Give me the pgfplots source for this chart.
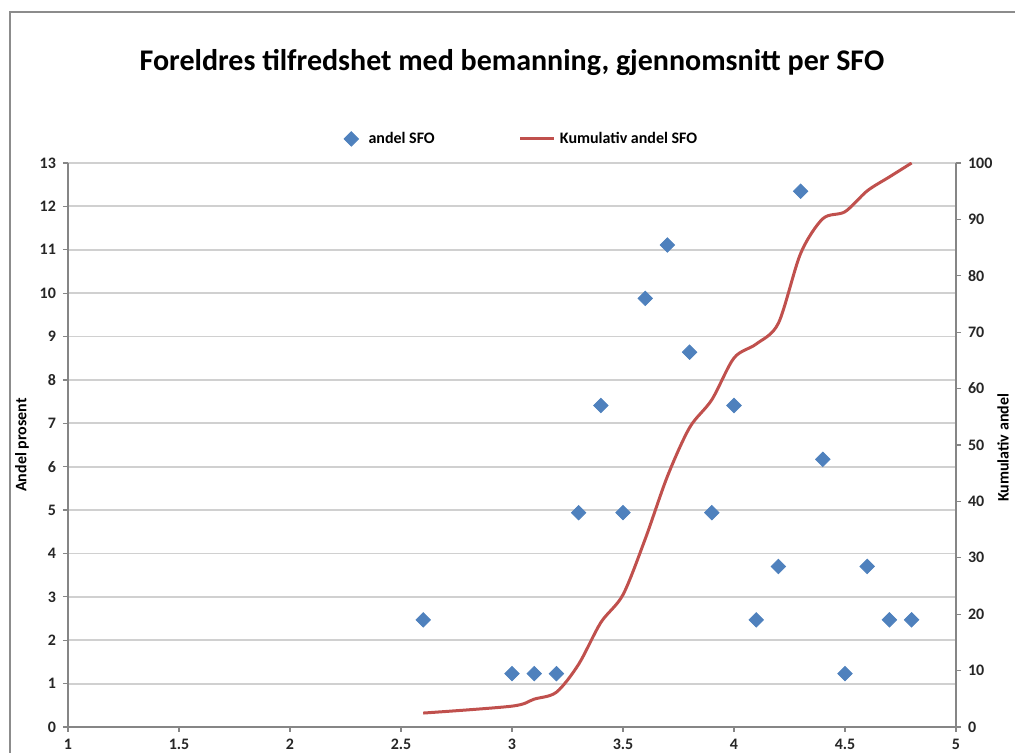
\documentclass[border=0pt]{standalone}
\usepackage{pgfplots}
\pgfplotsset{compat=1.18}
\usepackage{fontspec}
\setmainfont{Carlito}
\definecolor{sfoblue}{HTML}{4F81BD}
\definecolor{sfored}{HTML}{C0504D}
\definecolor{axgray}{HTML}{868686}
\definecolor{gridgray}{HTML}{D0D0D0}
\definecolor{framegray}{HTML}{8C8C8C}
\pgfplotsset{
  common/.style={
    at={(34pt,13pt)}, anchor=south west,
    scale only axis, width=444pt, height=282pt,
    xmin=1, xmax=5,
    axis line style={axgray, line width=0.6pt},
    major tick style={axgray, line width=0.6pt},
    tick align=outside, major tick length=2.5pt,
    tick label style={font=\bfseries\fontsize{8}{9}\selectfont, text=black!85},
    /pgf/number format/assume math mode=true,
    label style={font=\bfseries\fontsize{8}{9}\selectfont, text=black},
  }
}
\begin{document}
\begin{tikzpicture}
\useasboundingbox (0pt,0pt) rectangle (507.5pt,376.5pt);
\clip (0pt,0pt) rectangle (507.5pt,376.5pt);
\draw[framegray, line width=1pt] (5pt,-2pt) -- (5pt,370.5pt) -- (510pt,370.5pt);
\node[font=\bfseries\fontsize{15}{17}\selectfont] at (256pt,345pt) {Foreldres tilfredshet med bemanning, gjennomsnitt per SFO};
\begin{axis}[
  common,
  ymin=0, ymax=13,
  xtick={1,1.5,...,5}, ytick={0,1,...,13},
  axis y line*=left, axis x line*=bottom,
  ymajorgrids, grid style={gridgray, line width=0.9pt},
  ylabel={Andel prosent},
  ylabel style={at={(axis description cs:-0.0518,0.5)}, anchor=center},
  legend columns=2,
  legend style={at={(0.512,1.0426)}, anchor=center, draw=none, fill=none,
    font=\bfseries\fontsize{8}{9}\selectfont,
    /tikz/column 1/.style={column sep=3pt},
    /tikz/column 2/.style={column sep=40pt}},
]
\addplot[only marks, mark=square*, mark size=2.55pt, mark options={rotate=45, fill=sfoblue, draw=sfoblue}] coordinates {
(2.6,2.47) (3.0,1.23) (3.1,1.23) (3.2,1.23) (3.3,4.94) (3.4,7.41) (3.5,4.94)
(3.6,9.88) (3.7,11.11) (3.8,8.64) (3.9,4.94) (4.0,7.41) (4.1,2.47) (4.2,3.70)
(4.3,12.35) (4.4,6.17) (4.5,1.23) (4.6,3.70) (4.7,2.47) (4.8,2.47)
};
\addlegendentry{andel SFO}
\addlegendimage{sfored, line width=1.5pt}
\addlegendentry{Kumulativ andel SFO}
\end{axis}
\begin{axis}[
  common,
  ymin=0, ymax=100, ytick={0,10,...,100},
  axis x line=none, axis y line*=right,
  ylabel={Kumulativ andel},
  ylabel style={at={(axis description cs:1.053,0.495)}, anchor=center},
]
\addplot[sfored, line width=1.5pt, smooth, tension=0.5] coordinates {
(2.6,2.47) (3.0,3.70) (3.1,4.94) (3.2,6.17) (3.3,11.11) (3.4,18.52) (3.5,23.46)
(3.6,33.33) (3.7,44.44) (3.8,53.09) (3.9,58.02) (4.0,65.43) (4.1,67.90) (4.2,71.60)
(4.3,83.95) (4.4,90.12) (4.5,91.36) (4.6,95.06) (4.7,97.53) (4.8,100)
};
\end{axis}
\end{tikzpicture}
\end{document}
